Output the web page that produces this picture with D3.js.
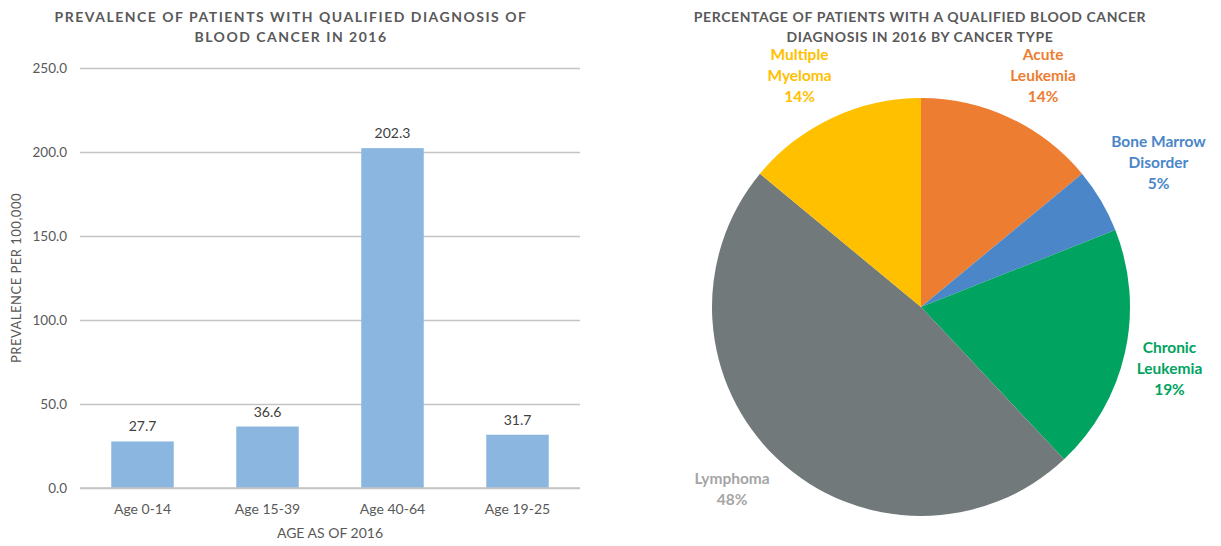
<!DOCTYPE html>
<html lang="en">
<head>
    <meta charset="utf-8">
    <script type="text/javascript" src="https://cdn.jsdelivr.net/npm/d3@7"></script>
    <style>
        body { margin: 0; background: #fff; }
        text { font-family: Lato, "Open Sans", sans-serif; }
    </style>
</head>
<body>
<script type="text/javascript">

    // Bar chart data
    let ageGroups = ["Age 0-14", "Age 15-39", "Age 40-64", "Age 19-25"];
    let prevalence = [27.7, 36.6, 202.3, 31.7];
    let yTicks = [0, 50, 100, 150, 200, 250];

    // Pie chart data
    let cancerTypes = ["Acute Leukemia", "Bone Marrow Disorder", "Chronic Leukemia", "Lymphoma", "Multiple Myeloma"];
    let cancerShares = [14, 5, 19, 48, 14];
    let labelLines = [["Acute", "Leukemia"], ["Bone Marrow", "Disorder"], ["Chronic", "Leukemia"], ["Lymphoma"], ["Multiple", "Myeloma"]];
    let sliceColors = ["#ED7D31", "#4A86C8", "#00A35F", "#72797B", "#FFC000"];
    let labelColors = ["#ED7D31", "#4A86C8", "#00A35F", "#A5A5A5", "#FFC000"];

    let w = 1221;
    let h = 546;

    let svg = d3.select("body")
        .append("svg")
        .attr("width", w)
        .attr("height", h);

    //---------------- bar chart ----------------
    let x = d3.scaleBand()
        .domain(ageGroups)
        .range([80, 580])
        .paddingInner(0.5)
        .paddingOuter(0.25);

    let y = d3.scaleLinear()
        .domain([0, 250])
        .range([488, 68]);

    let bar = svg.append("g");

    bar.append("text")
        .attr("text-anchor", "middle")
        .attr("fill", "#595959")
        .style("font-size", "14px")
        .style("font-weight", "bold")
        .style("letter-spacing", "1.5px")
        .selectAll("tspan")
        .data(["PREVALENCE OF PATIENTS WITH QUALIFIED DIAGNOSIS OF", "BLOOD CANCER IN 2016"])
        .enter()
        .append("tspan")
        .attr("x", 291)
        .attr("y", (d, i) => 22 + i * 20)
        .text(d => d);

    // gridlines + y labels
    let yAxis = d3.axisLeft(y)
        .tickValues(yTicks)
        .tickSize(-500)
        .tickPadding(14)
        .tickFormat(d3.format(".1f"));

    let yg = bar.append("g")
        .attr("transform", "translate(80,0)")
        .call(yAxis);
    yg.select(".domain").remove();
    yg.selectAll(".tick line")
        .attr("stroke", "#c4c4c4")
        .attr("stroke-width", 1.5);
    yg.selectAll(".tick text")
        .attr("fill", "#595959")
        .attr("x", -13)
        .style("font-size", "13.5px");

    bar.selectAll("rect")
        .data(prevalence)
        .enter()
        .append("rect")
        .attr("x", (d, i) => x(ageGroups[i]))
        .attr("y", d => y(d))
        .attr("width", x.bandwidth())
        .attr("height", d => y(0) - y(d))
        .attr("fill", "#8AB6E0");

    bar.selectAll(".val")
        .data(prevalence)
        .enter()
        .append("text")
        .attr("class", "val")
        .attr("x", (d, i) => x(ageGroups[i]) + x.bandwidth() / 2)
        .attr("y", d => y(d) - 10)
        .attr("text-anchor", "middle")
        .attr("fill", "#404040")
        .style("font-size", "14px")
        .text(d => d.toFixed(1));

    // baseline drawn over bars
    bar.append("line")
        .attr("x1", 80).attr("x2", 580)
        .attr("y1", y(0)).attr("y2", y(0))
        .attr("stroke", "#c4c4c4")
        .attr("stroke-width", 1.5);

    let xAxis = d3.axisBottom(x).tickSize(0).tickPadding(16);
    let xg = bar.append("g")
        .attr("transform", "translate(0," + y(0) + ")")
        .call(xAxis);
    xg.select(".domain").remove();
    xg.selectAll(".tick text")
        .attr("fill", "#595959")
        .style("font-size", "14px");

    bar.append("text")
        .attr("x", 330)
        .attr("y", 538)
        .attr("text-anchor", "middle")
        .attr("fill", "#595959")
        .style("font-size", "14px")
        .text("AGE AS OF 2016");

    bar.append("text")
        .attr("transform", "translate(21,278) rotate(-90)")
        .attr("text-anchor", "middle")
        .attr("fill", "#595959")
        .style("font-size", "13px")
        .style("letter-spacing", "0.5px")
        .text("PREVALENCE PER 100,000");

    //---------------- pie chart ----------------
    let cx = 921, cy = 307, r = 209;

    let pie = d3.pie().sort(null)(cancerShares);
    let arc = d3.arc().innerRadius(0).outerRadius(r);
    let labelArc = d3.arc().innerRadius(r + 12).outerRadius(r + 12);

    let pg = svg.append("g")
        .attr("transform", "translate(" + cx + "," + cy + ")");

    svg.append("text")
        .attr("text-anchor", "middle")
        .attr("fill", "#595959")
        .style("font-size", "14px")
        .style("font-weight", "bold")
        .style("letter-spacing", "0.6px")
        .selectAll("tspan")
        .data(["PERCENTAGE OF PATIENTS WITH A QUALIFIED BLOOD CANCER", "DIAGNOSIS IN 2016 BY CANCER TYPE"])
        .enter()
        .append("tspan")
        .attr("x", 920)
        .attr("y", (d, i) => 22 + i * 20)
        .text(d => d);

    pg.selectAll("path")
        .data(pie)
        .enter()
        .append("path")
        .attr("d", arc)
        .attr("fill", (d, i) => sliceColors[i]);

    // labels sit outside the pie: box pushed away from the anchor point
    let lineH = 21;
    pg.selectAll(".lbl")
        .data(pie)
        .enter()
        .append("text")
        .attr("class", "lbl")
        .attr("text-anchor", "middle")
        .attr("fill", (d, i) => labelColors[i])
        .style("font-size", "15.5px")
        .style("font-weight", "bold")
        .each(function (d, i) {
            let el = d3.select(this);
            let lines = labelLines[i].concat([cancerShares[i] + "%"]);
            let spans = el.selectAll("tspan")
                .data(lines)
                .enter()
                .append("tspan")
                .text(l => l);
            let bw = d3.max(spans.nodes(), n => n.getComputedTextLength());
            let bh = lines.length * lineH;
            let a = (d.startAngle + d.endAngle) / 2;
            let sx = Math.max(-1, Math.min(1, 2 * Math.sin(a)));
            let sy = Math.max(-1, Math.min(1, -2 * Math.cos(a)));
            let p = labelArc.centroid(d);
            let mx = p[0] + sx * bw / 2;
            let my = p[1] + sy * bh / 2;
            let top = my - bh / 2 + lineH / 2 + 5;
            spans.attr("x", mx)
                .attr("y", (l, j) => top + j * lineH);
        });

</script>
</body>
</html>
